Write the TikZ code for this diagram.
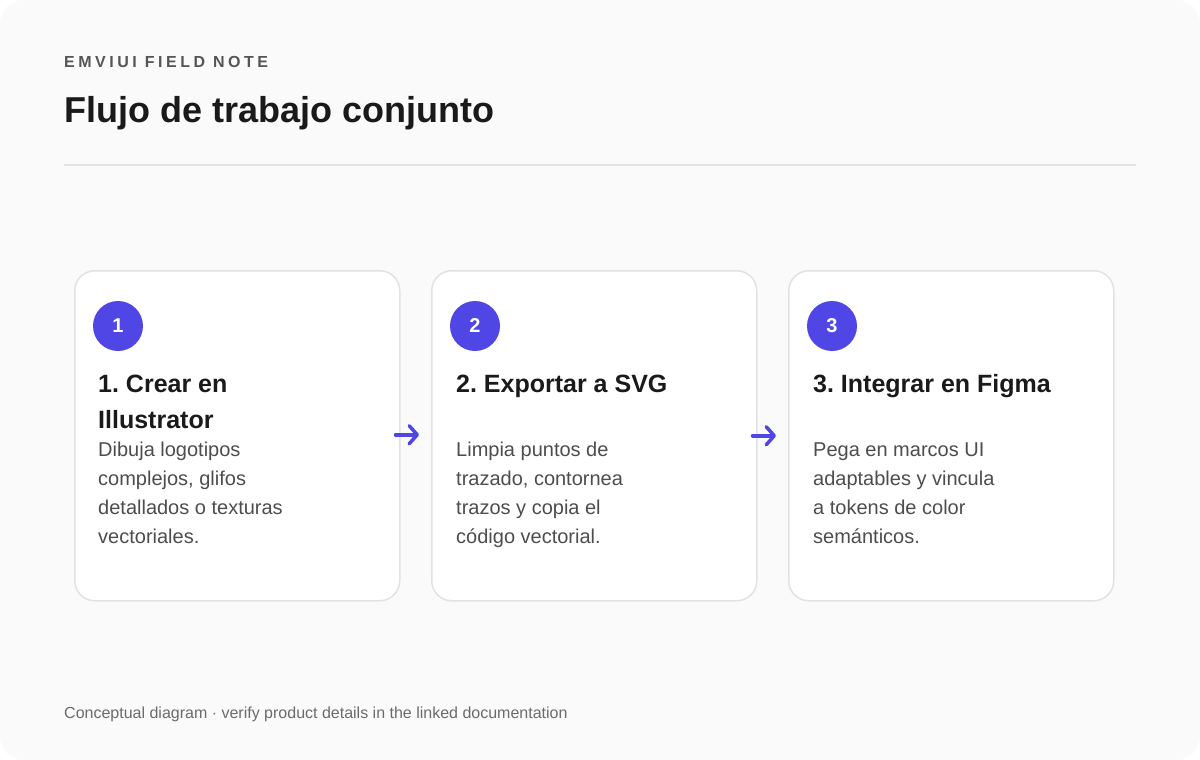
\documentclass[tikz,border=0pt]{standalone}
\usepackage{fontspec}
\setmainfont{Liberation Sans}
\newfontfamily\spacedfont[LetterSpace=22]{Liberation Sans}
\usetikzlibrary{arrows.meta}
\definecolor{bgc}{HTML}{FAFAFA}
\definecolor{brand}{HTML}{4F46E5}
\definecolor{cardline}{HTML}{E2E2E2}
\definecolor{rulec}{HTML}{E3E3E3}
\definecolor{ink}{HTML}{1A1A1A}
\definecolor{bodyc}{HTML}{4D4D4D}
\definecolor{labelc}{HTML}{555555}
\definecolor{footc}{HTML}{6B6B6B}
\frenchspacing
\begin{document}
\frenchspacing
\begin{tikzpicture}[x=1pt,y=-1pt,
  card/.style={draw=cardline, line width=1.5pt, fill=white, rounded corners=20pt,
    minimum width=325pt, minimum height=330pt, inner sep=0pt, anchor=north west},
  badge/.style={circle, fill=brand, minimum size=50pt, inner sep=0pt, text=white,
    font=\bfseries\fontsize{20}{20}\selectfont},
  head/.style={anchor=base west, inner sep=0pt, text=ink, align=left,
    font=\bfseries\fontsize{25}{36}\selectfont},
  body/.style={anchor=base west, inner sep=0pt, text=bodyc, align=left,
    font=\fontsize{20}{29}\selectfont},
  flow/.style={draw=brand, line width=3.5pt, line cap=round,
    -{Straight Barb[length=8pt, width=18pt, line cap=round, line join=round]}}
]
\useasboundingbox (0,0) rectangle (1200,760);
\fill[white] (0,0) rectangle (1200,760);
\fill[bgc, rounded corners=24pt] (0,0) rectangle (1200,760);

\node[anchor=base west, inner sep=0pt, text=labelc, font=\spacedfont\bfseries\fontsize{16}{16}\selectfont] (label) at (64,67.5) {EMVIUI FIELD NOTE};
\node[anchor=base west, inner sep=0pt, text=ink, font=\bfseries\fontsize{36}{36}\selectfont] (title) at (64,122.5) {Flujo de trabajo conjunto};
\draw[rulec, line width=1.5pt] (64,165) coordinate (r1) -- (1136,165) coordinate (r2);

\node[card] (c1) at (74,270) {};
\node[card] (c2) at (431,270) {};
\node[card] (c3) at (788,270) {};

\node[badge] (b1) at (118,326) {1};
\node[badge] (b2) at (475,326) {2};
\node[badge] (b3) at (832,326) {3};

% multi-line nodes: base anchor sits on the last line
\node[head] (h1) at (98,428.5) {1.\ Crear en\\Illustrator};
\node[head] (h2) at (456,392.5) {2.\ Exportar a SVG};
\node[head] (h3) at (813,392.5) {3.\ Integrar en Figma};

\node[body] (t1) at (98,543.5) {Dibuja logotipos\\complejos, glifos\\detallados o texturas\\vectoriales.};
\node[body] (t2) at (456,543.5) {Limpia puntos de\\trazado, contornea\\trazos y copia el\\código vectorial.};
\node[body] (t3) at (813,543.5) {Pega en marcos UI\\adaptables y vincula\\a tokens de color\\semánticos.};

\draw[flow] ([xshift=-5pt,yshift=1pt]c1.east) -- ([xshift=-12pt,yshift=1pt]c2.west);
\draw[flow] ([xshift=-5pt]c2.east) -- ([xshift=-12pt]c3.west);

\node[anchor=base west, inner sep=0pt, text=footc, font=\fontsize{16}{16}\selectfont] (foot) at (64,718) {Conceptual diagram · verify product details in the linked documentation};
\end{tikzpicture}
\end{document}
